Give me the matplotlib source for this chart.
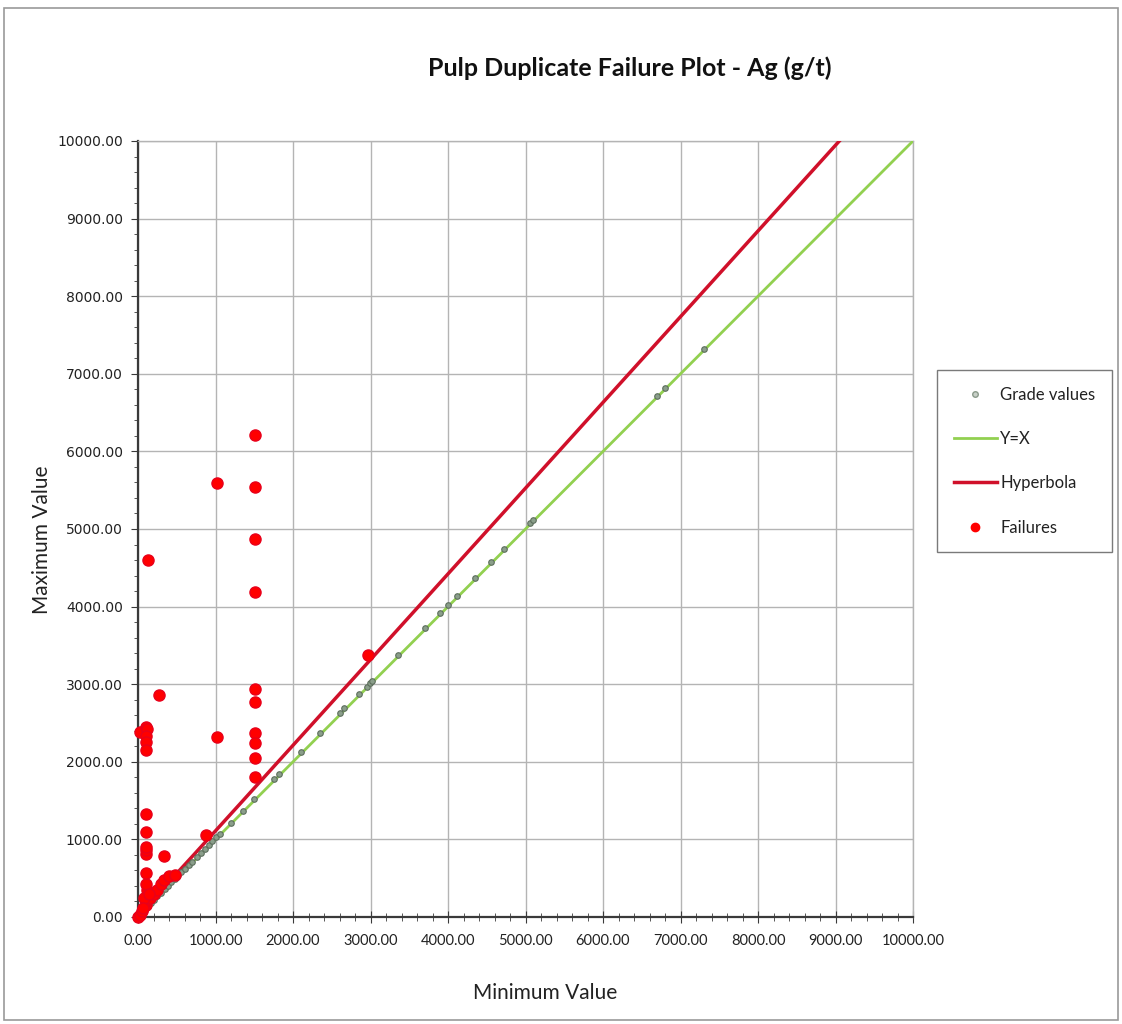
import matplotlib
matplotlib.use("Agg")
import matplotlib.pyplot as plt
from matplotlib.ticker import MultipleLocator, FormatStrFormatter
from matplotlib.patches import Rectangle
from matplotlib.lines import Line2D
import numpy as np

# ---------------- data ----------------
grade_min = [10, 30, 60, 90, 130, 170, 210, 250, 300, 350, 390, 430, 480, 520, 560,
             610, 660, 700, 760, 810, 860, 910, 960, 1010, 1060, 1200, 1350, 1500,
             1760, 1820, 2100, 2350, 2600, 2660, 2850, 2950, 2990, 3020, 3350, 3700,
             3900, 4000, 4120, 4350, 4560, 4720, 5060, 5100, 6700, 6800, 7300]
grade_max = [15, 35, 70, 100, 140, 180, 220, 265, 310, 360, 400, 445, 495, 535, 575,
             625, 675, 715, 775, 825, 875, 925, 975, 1025, 1075, 1215, 1365, 1515,
             1775, 1840, 2120, 2370, 2630, 2690, 2870, 2970, 3010, 3040, 3370, 3720,
             3920, 4020, 4140, 4370, 4580, 4740, 5080, 5120, 6720, 6820, 7320]

fail_min = [0, 20, 50, 100, 100, 150, 200, 120, 100, 250, 300, 330, 400, 480, 100,
            330, 100, 100, 100, 100, 100, 880, 20, 100, 110, 100, 100, 100, 270,
            1020, 1020, 130, 1510, 1510, 1510, 1510, 1510, 1510, 1510, 1510, 1510,
            1510, 2970, 80, 60, 140]
fail_max = [0, 30, 80, 150, 200, 250, 300, 350, 420, 350, 420, 480, 530, 540, 570,
            780, 810, 860, 900, 1100, 1330, 1060, 2380, 2450, 2420, 2330, 2260, 2150,
            2860, 2320, 5590, 4600, 6210, 5540, 4870, 4190, 2940, 2770, 2370, 2240,
            2050, 1800, 3380, 250, 120, 300]

line_x = [0, 10000]
line_y = [0, 10000]

hyp_slope = 1.105
hyp_b = 100.0

# ---------------- figure ----------------
W, H = 1122, 1024
fig = plt.figure(figsize=(W / 100, H / 100), dpi=100)
fig.patch.set_facecolor("white")

# outer frame
fig.patches.append(Rectangle((4 / W, 4 / H), (W - 8) / W, (H - 12) / H,
                             transform=fig.transFigure, fill=False,
                             edgecolor="#9a9a9a", linewidth=1.2))

left, right, top, bottom = 138, 913, 141, 917
ax = fig.add_axes([left / W, 1 - bottom / H, (right - left) / W, (bottom - top) / H])

ax.set_xlim(0, 10000)
ax.set_ylim(0, 10000)
ax.xaxis.set_major_locator(MultipleLocator(1000))
ax.yaxis.set_major_locator(MultipleLocator(1000))
ax.xaxis.set_minor_locator(MultipleLocator(200))
ax.yaxis.set_minor_locator(MultipleLocator(200))
ax.xaxis.set_major_formatter(FormatStrFormatter("%.2f"))
ax.yaxis.set_major_formatter(FormatStrFormatter("%.2f"))

ax.grid(True, which="major", color="#b4b4b4", linewidth=1.0)
ax.set_axisbelow(True)

for s in ["top", "right"]:
    ax.spines[s].set_color("#b4b4b4")
    ax.spines[s].set_linewidth(1.0)
for s in ["left", "bottom"]:
    ax.spines[s].set_color("#3a3a3a")
    ax.spines[s].set_linewidth(1.6)

ax.tick_params(axis="x", which="both", direction="inout", colors="#3a3a3a",
               labelcolor="#222222", pad=8)
ax.tick_params(axis="x", which="major", length=8)
ax.tick_params(axis="x", which="minor", length=6)
ax.tick_params(axis="y", which="both", direction="out", colors="#3a3a3a",
               labelcolor="#222222", pad=6)
ax.tick_params(axis="y", which="major", length=5)
ax.tick_params(axis="y", which="minor", length=3)

for lab in ax.get_xticklabels():
    lab.set_fontfamily(["Lato", "DejaVu Sans"])
    lab.set_fontsize(10.5)
for lab in ax.get_yticklabels():
    lab.set_fontfamily("DejaVu Sans")
    lab.set_fontsize(10)

# Y = X
ax.plot(line_x, line_y, color="#92d050", linewidth=2, zorder=3)

# hyperbola
hx = np.linspace(0, 10000, 400)
hy = np.sqrt((hyp_slope * hx) ** 2 + hyp_b ** 2)
ax.plot(hx, hy, color="#d0102a", linewidth=2.5, zorder=3)

# grade values
ax.plot(grade_min, grade_max, linestyle="none", marker="o", markersize=4,
        markerfacecolor="#8a9e8a", markeredgecolor="#5d6e5d", markeredgewidth=0.8,
        zorder=4)

# failures
ax.plot(fail_min, fail_max, linestyle="none", marker="o", markersize=8,
        markerfacecolor="#ff0000", markeredgecolor="#e8001a", zorder=5, clip_on=False)

# ---------------- texts ----------------
fig.text(630 / W, 1 - 68 / H, "Pulp Duplicate Failure Plot - Ag (g/t)",
         ha="center", va="center", fontsize=18, fontweight="bold",
         family=["Lato", "DejaVu Sans"], color="#111111")
fig.text(545 / W, 1 - 993 / H, "Minimum Value", ha="center", va="center",
         fontsize=15, family=["Lato", "DejaVu Sans"], color="#222222")
fig.text(42 / W, 1 - 540 / H, "Maximum Value", ha="center", va="center",
         rotation=90, fontsize=15, family=["Lato", "DejaVu Sans"], color="#222222")

# ---------------- legend ----------------
handles = [
    Line2D([], [], linestyle="none", marker="o", markersize=4,
           markerfacecolor="#c8d0c8", markeredgecolor="#8a9a8a"),
    Line2D([], [], color="#92d050", linewidth=2),
    Line2D([], [], color="#d0102a", linewidth=2.5),
    Line2D([], [], linestyle="none", marker="o", markersize=6,
           markerfacecolor="#ff0000", markeredgecolor="#ff0000"),
]
labels = ["Grade values", "Y=X", "Hyperbola", "Failures"]
leg = fig.legend(handles, labels, loc="upper left",
                 bbox_to_anchor=(937 / W, 1 - 370 / H), bbox_transform=fig.transFigure,
                 frameon=True, fancybox=False, framealpha=1, edgecolor="#7a7a7a",
                 prop={"family": ["Lato", "DejaVu Sans"], "size": 12},
                 labelspacing=1.7, handlelength=2.6, handletextpad=0.2,
                 borderpad=1.0, borderaxespad=0)
leg.get_frame().set_linewidth(1.0)
for t in leg.get_texts():
    t.set_color("#222222")

fig.savefig("out.png", dpi=100)
